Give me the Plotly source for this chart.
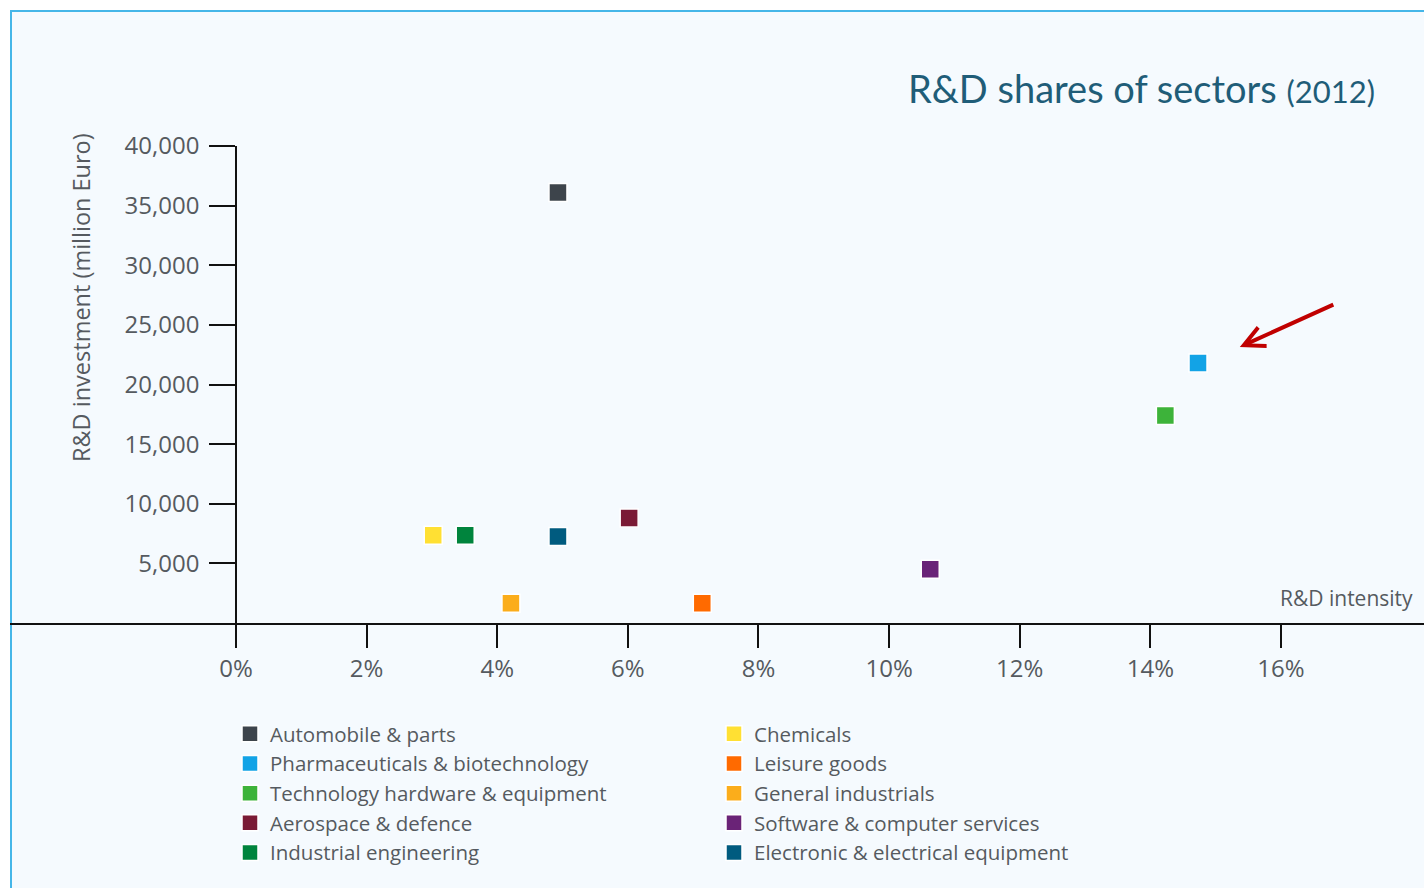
import plotly.graph_objects as go

# ---- data ----
sectors = ["Automobile & parts", "Chemicals",
           "Pharmaceuticals & biotechnology", "Leisure goods",
           "Technology hardware & equipment", "General industrials",
           "Aerospace & defence", "Software & computer services",
           "Industrial engineering", "Electronic & electrical equipment"]
intensity = [4.93, 3.02, 14.73, 7.14, 14.23, 4.21, 6.02, 10.63, 3.51, 4.93]   # %
investment = [36100, 7350, 21800, 1650, 17400, 1650, 8800, 4500, 7350, 7250]  # million Euro
colors = ["#3d444b", "#ffe033", "#12a3e6", "#ff6a00", "#3db33a",
          "#fbad1b", "#7a1a35", "#6a2377", "#00843d", "#005b7f"]
x_ticks = [0, 2, 4, 6, 8, 10, 12, 14, 16]
x_tick_labels = ["0%", "2%", "4%", "6%", "8%", "10%", "12%", "14%", "16%"]
y_ticks = [5000, 10000, 15000, 20000, 25000, 30000, 35000, 40000]

W, H = 1424, 888
L, R, T, B = 10, 0, 146, 265
PW, PH = W - L - R, H - T - B

def px_x(px):
    return (px - L) / PW

def px_y(py):
    return (H - B - py) / PH

FONT = "Open Sans"
GREY = "#555a60"

fig = go.Figure()
for i, (name, xv, yv, c) in enumerate(zip(sectors, intensity, investment, colors)):
    fig.add_trace(go.Scatter(
        x=[xv], y=[yv], mode="markers", name=name,
        marker=dict(symbol="square", size=18, color=c,
                    line=dict(color="white", width=1.5)),
        legend="legend" if i % 2 == 0 else "legend2",
        showlegend=True,
    ))

fig.update_layout(
    width=W, height=H,
    margin=dict(l=L, r=R, t=T, b=B),
    paper_bgcolor="white",
    plot_bgcolor="rgba(0,0,0,0)",
    font=dict(family=FONT, color=GREY, size=22),
    xaxis=dict(
        range=[-3.46, 18.19], tickvals=x_ticks, ticktext=x_tick_labels,
        showgrid=False, zeroline=False,
        showline=True, linecolor="#111", linewidth=1.5,
        ticks="outside", ticklen=23, tickwidth=1.5, tickcolor="#111",
        ticklabelstandoff=0,
        tickfont=dict(family=FONT, size=24, color=GREY),
        fixedrange=True,
    ),
    yaxis=dict(
        range=[0, 40000], tickvals=y_ticks, tickformat=",d",
        anchor="free", position=px_x(236),
        showgrid=False, zeroline=False,
        showline=True, linecolor="#111", linewidth=1.5,
        ticks="outside", ticklen=26, tickwidth=1.5, tickcolor="#111",
        ticklabelstandoff=5,
        tickfont=dict(family=FONT, size=24, color=GREY),
        fixedrange=True,
    ),
    legend=dict(
        x=px_x(230), y=px_y(714), xanchor="left", yanchor="top",
        bgcolor="rgba(0,0,0,0)", font=dict(family=FONT, size=20.5, color=GREY),
        itemclick=False, tracegroupgap=0,
    ),
    legend2=dict(
        x=px_x(714), y=px_y(714), xanchor="left", yanchor="top",
        bgcolor="rgba(0,0,0,0)", font=dict(family=FONT, size=20.5, color=GREY),
        itemclick=False, tracegroupgap=0,
    ),
    showlegend=True,
)

# background panel with light blue border
fig.add_shape(type="rect", xref="paper", yref="paper",
              x0=px_x(11), x1=1.02, y0=-1.0, y1=px_y(11),
              fillcolor="#f5fafe", line=dict(color="#45b6e8", width=2),
              layer="below")

# title
fig.add_annotation(xref="paper", yref="paper", x=px_x(1377), y=px_y(88),
                   xanchor="right", yanchor="middle", showarrow=False,
                   text="R&D shares of sectors <span style='font-size:31px'>(2012)</span>",
                   font=dict(family="Lato", size=38, color="#1f5d78"))

# y-axis title
fig.add_annotation(xref="paper", yref="paper", x=px_x(81), y=px_y(298),
                   xanchor="center", yanchor="middle", showarrow=False,
                   textangle=-90, text="R&D investment (million Euro)",
                   font=dict(family=FONT, size=23.5, color=GREY))

# x-axis title
fig.add_annotation(xref="paper", yref="paper", x=px_x(1278), y=px_y(598),
                   xanchor="left", yanchor="middle", showarrow=False,
                   text="R&D intensity",
                   font=dict(family=FONT, size=21, color=GREY))

# red arrow pointing at Pharmaceuticals
fig.add_annotation(x=15.37, y=23150, xref="x", yref="y",
                   ax=95, ay=-43, axref="pixel", ayref="pixel",
                   showarrow=True, arrowhead=5, arrowsize=1, arrowwidth=4,
                   arrowcolor="#c00000", text="")

fig.write_html("out.html",
               config={"displayModeBar": False},
               post_script="document.body.style.margin='0';document.body.style.overflow='hidden';")
